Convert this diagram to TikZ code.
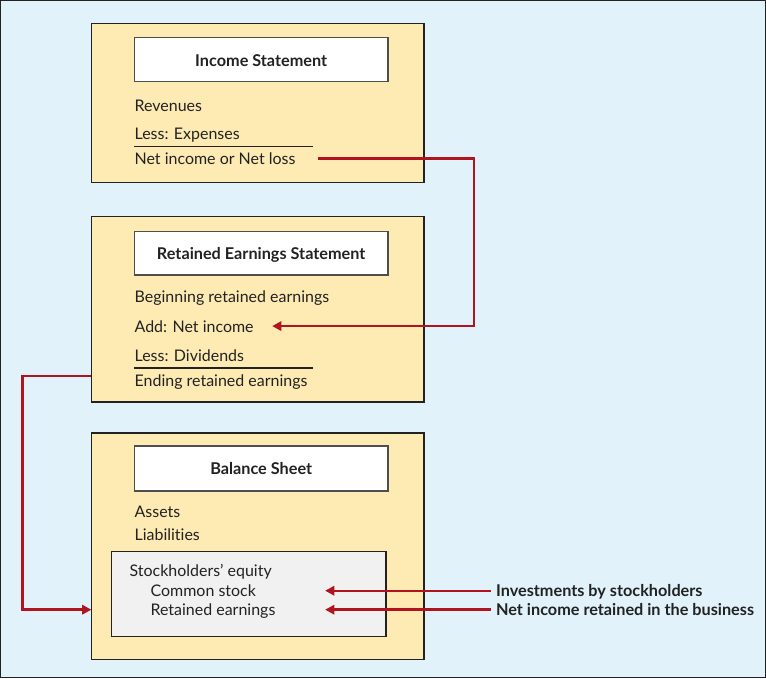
\documentclass[tikz,border=0pt]{standalone}
\usepackage{fontspec}
\setmainfont{Lato}[Contextuals=NoAlternate,Ligatures=NoCommon]
\usetikzlibrary{arrows.meta}

\definecolor{bgblue}{HTML}{E2F2FB}
\definecolor{boxyel}{HTML}{FEEBB4}
\definecolor{eqgray}{HTML}{F1F1F1}
\definecolor{arrred}{HTML}{B0141E}
\definecolor{linegray}{HTML}{222222}

\tikzset{
  panel/.style={draw=linegray, fill=boxyel, line width=1pt},
  titlebox/.style={draw=linegray!80, fill=white, line width=1pt},
  item/.style={anchor=west, inner sep=0pt, text height=10pt, text depth=1pt,
    font=\fontsize{12}{14}\selectfont, text=linegray},
  heading/.style={inner sep=0pt, text height=10pt, text depth=1pt,
    font=\fontsize{12.2}{14}\selectfont\bfseries, text=linegray},
  flow/.style={draw=arrred, line width=1.8pt, -{Triangle[length=7pt,width=7pt]}}
}

\begin{document}
\begin{tikzpicture}[x=0.75pt,y=-0.75pt]
  % background
  \fill[bgblue, draw=linegray, line width=0.8pt] (0,0) rectangle (766,678);
  \useasboundingbox (0,0) rectangle (766,678);

  % income statement
  \draw[panel] (91,23) rectangle (424,182);
  \draw[titlebox] (134,37) rectangle (388,81);
  \node[heading] (ist) at (261,60) {Income Statement};
  \node[item] (rev) at (134,105) {Revenues};
  \node[item] (exp) at (134,133) {Less: Expenses};
  \draw[linegray, line width=1.2pt] (134,146) -- (313,146);
  \node[item] (netinc) at (134,158) {Net income or Net loss};

  % retained earnings statement
  \draw[panel] (91,216) rectangle (424,402);
  \node[coordinate] (ret) at (91,376) {};
  \draw[titlebox] (134,231) rectangle (388,275);
  \node[heading] (rst) at (261,253) {Retained Earnings Statement};
  \node[item] (beg) at (134,296) {Beginning retained earnings};
  \node[item] (addni) at (134,326) {Add: Net income};
  \node[item] (div) at (134,355) {Less: Dividends};
  \draw[linegray, line width=1.2pt] (134,368) -- (313,368);
  \node[item] (ending) at (134,380) {Ending retained earnings};

  % balance sheet
  \draw[panel] (91,433) rectangle (424,660);
  \draw[titlebox] (134,446) rectangle (388,491);
  \node[heading] (bst) at (261,469) {Balance Sheet};
  \node[item] (ass) at (134,512) {Assets};
  \node[item] (lia) at (134,535) {Liabilities};
  \draw[draw=linegray, fill=eqgray, line width=1pt] (111,552) rectangle (386,637);
  \node[item] (se) at (129,571) {Stockholders’ equity};
  \node[item] (cs) at (150,591) {Common stock};
  \node[item] (re) at (150,610) {Retained earnings};

  % side labels
  \node[heading, anchor=west] (inv) at (496,591) {Investments by stockholders};
  \node[heading, anchor=west] (nir) at (496,610) {Net income retained in the business};

  % connectors
  \coordinate (c1) at (474,158);
  \coordinate (c2) at (22,610);
  \coordinate (t1) at (272,326);
  \coordinate (t2) at (91,610);
  \coordinate (t3) at (325,591);
  \coordinate (t4) at (325,610);
  \draw[flow] (netinc.east -| 318,0) -- (c1) |- (t1);
  \draw[flow] (ret) -| (c2) -- (t2);
  \draw[flow] ([xshift=-4pt]inv.west) -- (t3);
  \draw[flow] ([xshift=-4pt]nir.west) -- (t4);
\end{tikzpicture}
\end{document}
